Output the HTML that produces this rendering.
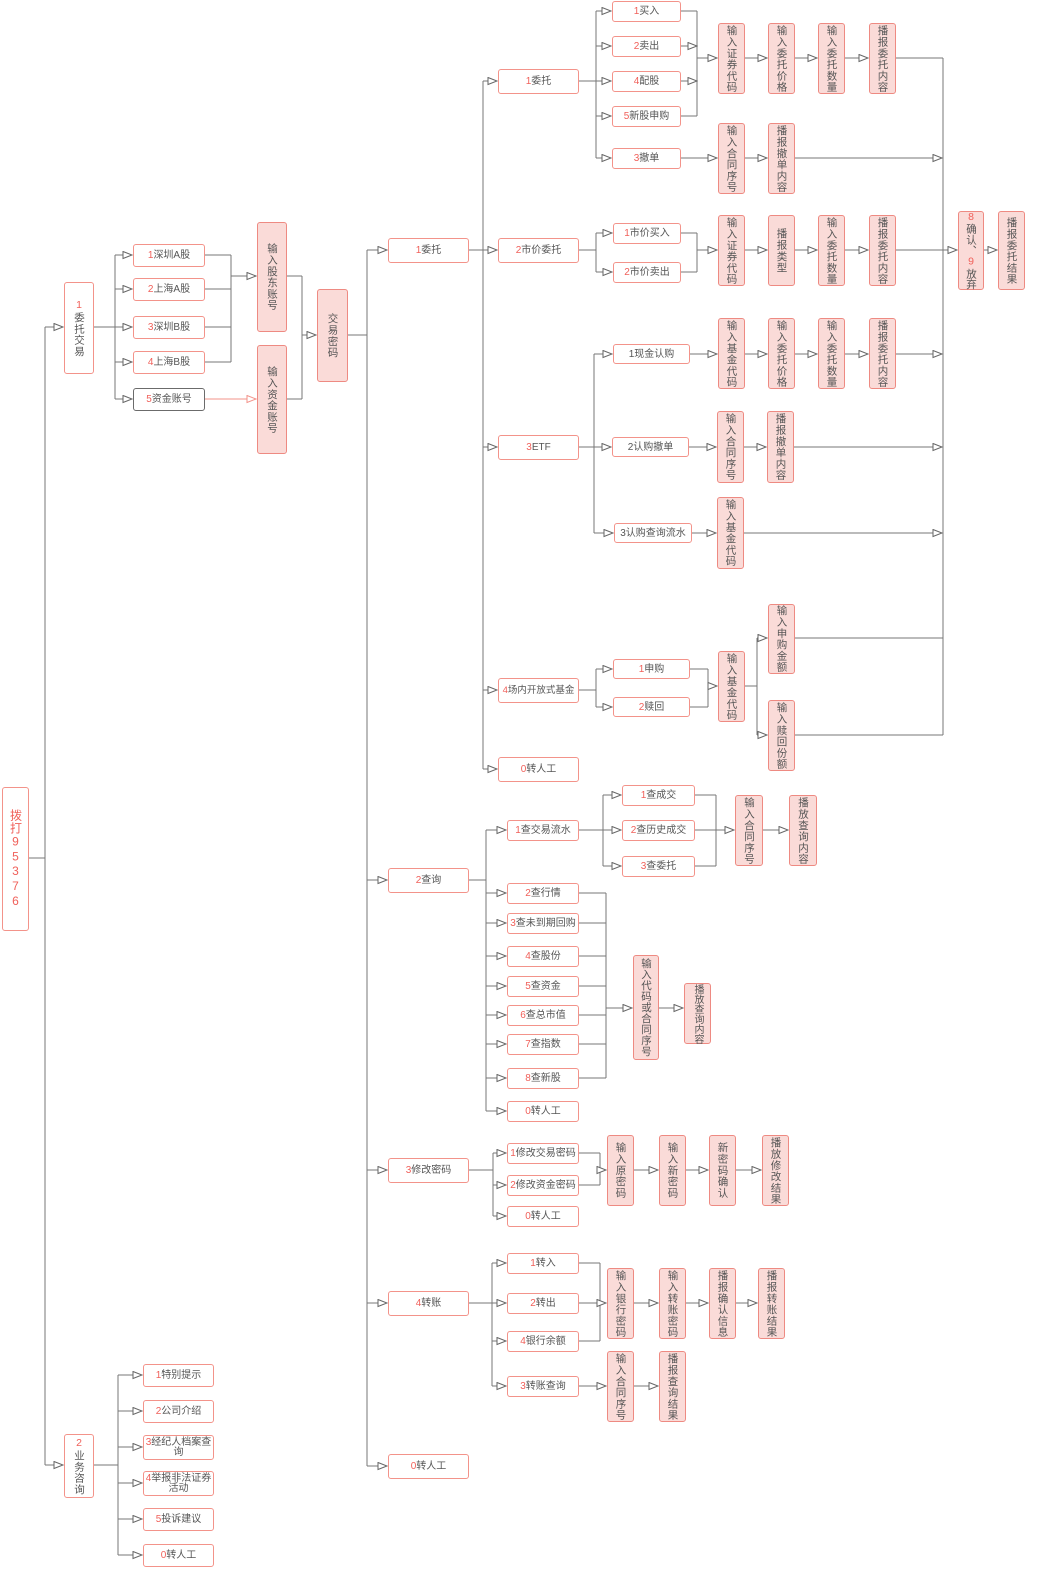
<!DOCTYPE html>
<html><head><meta charset="utf-8"><style>
body{margin:0;width:1038px;height:1586px;background:#fff;position:relative;overflow:hidden;font-family:"Liberation Sans","Noto Sans CJK SC",sans-serif;}
svg{position:absolute;left:0;top:0}
.h,.v{position:absolute;box-sizing:border-box;border:1px solid #f3938a;border-radius:3px;display:flex;align-items:center;justify-content:center;color:#555;font-size:10px;text-align:center;line-height:11px;white-space:nowrap}
.h{background:#fff}
.v{background:#fadbd8;border-color:#ee8a82}
.v span,.vt span{writing-mode:vertical-rl;text-orientation:upright;letter-spacing:0.8px;font-size:10.5px;white-space:nowrap;line-height:12px}
.r{color:#f0605a}
.g{border-color:#6b6b6b}
.w{white-space:normal}
</style></head><body>
<svg width="1038" height="1586">
<defs><marker id="a" markerUnits="userSpaceOnUse" markerWidth="11" markerHeight="9" refX="10" refY="4" orient="auto"><path d="M1,0.5 L10,4 L1,7.5 Z" fill="#fff" stroke="#666" stroke-width="1"/></marker>
<marker id="ar" markerUnits="userSpaceOnUse" markerWidth="11" markerHeight="9" refX="10" refY="4" orient="auto"><path d="M1,0.5 L10,4 L1,7.5 Z" fill="#fff" stroke="#f3938a" stroke-width="1"/></marker></defs>
<g fill="none" stroke="#777" stroke-width="1">
<path d="M28 858H45M45 327V1465M93 327H115M115 255V399M204 255H231M204 289H231M204 327H231M204 362H231M231 255V362M286 276H302M286 399H302M302 276V399M347 335H367M367 250V1466"/>
<path d="M468 250H483M483 81V769M578 81H596M596 11V158M680 11H697M697 11V116M680 116H697M943 58V735M895 58H943"/>
<path d="M578 250H596M596 233V272M680 233H697M680 272H697M697 233V272M895 250H943"/>
<path d="M578 447H594M594 354V533M578 690H596M596 669V707M689 669H708M689 707H708M708 669V707M744 686H757M757 638V735M794 638H943M794 735H943"/>
<path d="M468 880H486M486 830V1111M578 830H603M603 795V866M694 795H716M694 830H716M694 866H716M716 795V866M578 893H606M578 923H606M578 956H606M578 986H606M578 1015H606M578 1044H606M578 1078H606M606 893V1078"/>
<path d="M468 1170H493M493 1153V1216M578 1153H600M578 1185H600M600 1153V1185M468 1303H492M492 1263V1386M578 1263H600M578 1303H600M578 1341H600M600 1263V1341M93 1465H118M118 1375V1555"/>
</g>
<g fill="none" stroke="#777" stroke-width="1" marker-end="url(#a)">
<path d="M45 327H63"/><path d="M45 1465H63"/>
<path d="M115 255H132"/><path d="M115 289H132"/><path d="M115 327H132"/><path d="M115 362H132"/><path d="M115 399H132"/>
<path d="M231 276H256"/><path d="M302 335H316"/>
<path d="M367 250H387"/><path d="M367 880H387"/><path d="M367 1170H387"/><path d="M367 1303H387"/><path d="M367 1466H387"/>
<path d="M483 81H497"/><path d="M483 250H497"/><path d="M483 447H497"/><path d="M483 690H497"/><path d="M483 769H497"/>
<path d="M596 11H611"/><path d="M596 46H611"/><path d="M596 81H611"/><path d="M596 116H611"/><path d="M596 158H611"/>
<path d="M680 46H697"/><path d="M680 81H697"/><path d="M697 58H717"/>
<path d="M744 58H767"/><path d="M794 58H817"/><path d="M844 58H868"/>
<path d="M680 158H717"/><path d="M744 158H767"/><path d="M794 158H942"/>
<path d="M596 233H612"/><path d="M596 272H612"/><path d="M697 250H717"/><path d="M744 250H767"/><path d="M794 250H817"/><path d="M844 250H868"/><path d="M943 250H957"/><path d="M983 250H997"/>
<path d="M594 354H612"/><path d="M594 447H611"/><path d="M594 533H613"/>
<path d="M689 354H717"/><path d="M744 354H767"/><path d="M794 354H817"/><path d="M844 354H868"/><path d="M895 354H942"/>
<path d="M688 447H716"/><path d="M743 447H766"/><path d="M793 447H942"/>
<path d="M691 533H716"/><path d="M743 533H942"/>
<path d="M596 669H612"/><path d="M596 707H612"/><path d="M708 686H717"/><path d="M757 638H767"/><path d="M757 735H767"/>
<path d="M486 830H506"/><path d="M486 893H506"/><path d="M486 923H506"/><path d="M486 956H506"/><path d="M486 986H506"/><path d="M486 1015H506"/><path d="M486 1044H506"/><path d="M486 1078H506"/><path d="M486 1111H506"/>
<path d="M603 795H621"/><path d="M603 830H621"/><path d="M603 866H621"/><path d="M716 830H734"/><path d="M762 830H788"/>
<path d="M606 1008H632"/><path d="M658 1008H683"/>
<path d="M493 1153H506"/><path d="M493 1185H506"/><path d="M493 1216H506"/><path d="M600 1170H606"/><path d="M633 1170H658"/><path d="M685 1170H708"/><path d="M735 1170H761"/>
<path d="M492 1263H506"/><path d="M492 1303H506"/><path d="M492 1341H506"/><path d="M492 1386H506"/><path d="M600 1303H606"/><path d="M633 1303H658"/><path d="M685 1303H708"/><path d="M735 1303H757"/>
<path d="M578 1386H606"/><path d="M633 1386H658"/>
<path d="M118 1375H142"/><path d="M118 1411H142"/><path d="M118 1447H142"/><path d="M118 1483H142"/><path d="M118 1519H142"/><path d="M118 1555H142"/>
</g>
<path d="M204 399H256" fill="none" stroke="#f3938a" marker-end="url(#ar)"/>
</svg>

<div class="h vt" style="left:2px;top:787px;width:27px;height:144px;color:#f0605a"><span style="font-size:12px">拨打95376</span></div>
<div class="h vt" style="left:64px;top:282px;width:30px;height:92px"><span><b class="r" style="font-weight:normal">1</b>委托交易</span></div>
<div class="h vt" style="left:64px;top:1434px;width:30px;height:64px"><span><b class="r" style="font-weight:normal">2</b>业务咨询</span></div>

<div class="h" style="left:133px;top:244px;width:72px;height:23px"><span class="r">1</span>深圳A股</div>
<div class="h" style="left:133px;top:278px;width:72px;height:23px"><span class="r">2</span>上海A股</div>
<div class="h" style="left:133px;top:316px;width:72px;height:23px"><span class="r">3</span>深圳B股</div>
<div class="h" style="left:133px;top:351px;width:72px;height:23px"><span class="r">4</span>上海B股</div>
<div class="h g" style="left:133px;top:388px;width:72px;height:23px"><span class="r">5</span>资金账号</div>
<div class="v" style="left:257px;top:222px;width:30px;height:110px"><span>输入股东账号</span></div>
<div class="v" style="left:257px;top:345px;width:30px;height:109px"><span>输入资金账号</span></div>
<div class="v" style="left:317px;top:289px;width:31px;height:93px"><span>交易密码</span></div>

<div class="h" style="left:388px;top:238px;width:81px;height:25px"><span class="r">1</span>委托</div>
<div class="h" style="left:388px;top:868px;width:81px;height:25px"><span class="r">2</span>查询</div>
<div class="h" style="left:388px;top:1158px;width:81px;height:25px"><span class="r">3</span>修改密码</div>
<div class="h" style="left:388px;top:1291px;width:81px;height:25px"><span class="r">4</span>转账</div>
<div class="h" style="left:388px;top:1454px;width:81px;height:25px"><span class="r">0</span>转人工</div>

<div class="h" style="left:498px;top:69px;width:81px;height:25px"><span class="r">1</span>委托</div>
<div class="h" style="left:498px;top:238px;width:81px;height:25px"><span class="r">2</span>市价委托</div>
<div class="h" style="left:498px;top:435px;width:81px;height:25px"><span class="r">3</span>ETF</div>
<div class="h" style="left:498px;top:678px;width:81px;height:25px;font-size:9.5px"><span class="r">4</span>场内开放式基金</div>
<div class="h" style="left:498px;top:757px;width:81px;height:25px"><span class="r">0</span>转人工</div>

<div class="h" style="left:612px;top:1px;width:69px;height:21px"><span class="r">1</span>买入</div>
<div class="h" style="left:612px;top:36px;width:69px;height:21px"><span class="r">2</span>卖出</div>
<div class="h" style="left:612px;top:71px;width:69px;height:21px"><span class="r">4</span>配股</div>
<div class="h" style="left:612px;top:106px;width:69px;height:21px"><span class="r">5</span>新股申购</div>
<div class="h" style="left:612px;top:148px;width:69px;height:21px"><span class="r">3</span>撤单</div>
<div class="v" style="left:718px;top:23px;width:27px;height:71px"><span>输入证券代码</span></div>
<div class="v" style="left:768px;top:23px;width:27px;height:71px"><span>输入委托价格</span></div>
<div class="v" style="left:818px;top:23px;width:27px;height:71px"><span>输入委托数量</span></div>
<div class="v" style="left:869px;top:23px;width:27px;height:71px"><span>播报委托内容</span></div>
<div class="v" style="left:718px;top:123px;width:27px;height:71px"><span>输入合同序号</span></div>
<div class="v" style="left:768px;top:123px;width:27px;height:71px"><span>播报撤单内容</span></div>

<div class="h" style="left:613px;top:223px;width:68px;height:21px"><span class="r">1</span>市价买入</div>
<div class="h" style="left:613px;top:262px;width:68px;height:21px"><span class="r">2</span>市价卖出</div>
<div class="v" style="left:718px;top:215px;width:27px;height:71px"><span>输入证券代码</span></div>
<div class="v" style="left:768px;top:215px;width:27px;height:71px"><span>播报类型</span></div>
<div class="v" style="left:818px;top:215px;width:27px;height:71px"><span>输入委托数量</span></div>
<div class="v" style="left:869px;top:215px;width:27px;height:71px"><span>播报委托内容</span></div>
<div class="v" style="left:958px;top:211px;width:26px;height:79px"><span style="letter-spacing:0.3px"><b class="r" style="font-weight:normal">8</b>确认、<b class="r" style="font-weight:normal">9</b>放弃</span></div>
<div class="v" style="left:998px;top:211px;width:27px;height:79px"><span>播报委托结果</span></div>

<div class="h" style="left:613px;top:344px;width:77px;height:20px">1现金认购</div>
<div class="h" style="left:612px;top:437px;width:77px;height:20px">2认购撤单</div>
<div class="h" style="left:614px;top:523px;width:78px;height:20px">3认购查询流水</div>
<div class="v" style="left:718px;top:318px;width:27px;height:71px"><span>输入基金代码</span></div>
<div class="v" style="left:768px;top:318px;width:27px;height:71px"><span>输入委托价格</span></div>
<div class="v" style="left:818px;top:318px;width:27px;height:71px"><span>输入委托数量</span></div>
<div class="v" style="left:869px;top:318px;width:27px;height:71px"><span>播报委托内容</span></div>
<div class="v" style="left:717px;top:411px;width:27px;height:72px"><span>输入合同序号</span></div>
<div class="v" style="left:767px;top:411px;width:27px;height:72px"><span>播报撤单内容</span></div>
<div class="v" style="left:717px;top:497px;width:27px;height:72px"><span>输入基金代码</span></div>

<div class="h" style="left:613px;top:659px;width:77px;height:20px"><span class="r">1</span>申购</div>
<div class="h" style="left:613px;top:697px;width:77px;height:20px"><span class="r">2</span>赎回</div>
<div class="v" style="left:718px;top:651px;width:27px;height:71px"><span>输入基金代码</span></div>
<div class="v" style="left:768px;top:604px;width:27px;height:70px"><span>输入申购金额</span></div>
<div class="v" style="left:768px;top:700px;width:27px;height:71px"><span>输入赎回份额</span></div>

<div class="h" style="left:507px;top:820px;width:72px;height:21px"><span class="r">1</span>查交易流水</div>
<div class="h" style="left:507px;top:883px;width:72px;height:21px"><span class="r">2</span>查行情</div>
<div class="h" style="left:507px;top:913px;width:72px;height:21px"><span class="r">3</span>查未到期回购</div>
<div class="h" style="left:507px;top:946px;width:72px;height:21px"><span class="r">4</span>查股份</div>
<div class="h" style="left:507px;top:976px;width:72px;height:21px"><span class="r">5</span>查资金</div>
<div class="h" style="left:507px;top:1005px;width:72px;height:21px"><span class="r">6</span>查总市值</div>
<div class="h" style="left:507px;top:1034px;width:72px;height:21px"><span class="r">7</span>查指数</div>
<div class="h" style="left:507px;top:1068px;width:72px;height:21px"><span class="r">8</span>查新股</div>
<div class="h" style="left:507px;top:1101px;width:72px;height:21px"><span class="r">0</span>转人工</div>
<div class="h" style="left:622px;top:785px;width:73px;height:21px"><span class="r">1</span>查成交</div>
<div class="h" style="left:622px;top:820px;width:73px;height:21px"><span class="r">2</span>查历史成交</div>
<div class="h" style="left:622px;top:856px;width:73px;height:21px"><span class="r">3</span>查委托</div>
<div class="v" style="left:735px;top:795px;width:28px;height:71px"><span>输入合同序号</span></div>
<div class="v" style="left:789px;top:795px;width:28px;height:71px"><span>播放查询内容</span></div>
<div class="v" style="left:633px;top:955px;width:26px;height:105px"><span style="letter-spacing:0.5px">输入代码或合同序号</span></div>
<div class="v" style="left:684px;top:983px;width:27px;height:61px"><span style="letter-spacing:0;line-height:11px;font-size:10px">播放查询内容</span></div>

<div class="h" style="left:507px;top:1143px;width:72px;height:21px"><span class="r">1</span>修改交易密码</div>
<div class="h" style="left:507px;top:1175px;width:72px;height:21px"><span class="r">2</span>修改资金密码</div>
<div class="h" style="left:507px;top:1206px;width:72px;height:21px"><span class="r">0</span>转人工</div>
<div class="v" style="left:607px;top:1135px;width:27px;height:71px"><span>输入原密码</span></div>
<div class="v" style="left:659px;top:1135px;width:27px;height:71px"><span>输入新密码</span></div>
<div class="v" style="left:709px;top:1135px;width:27px;height:71px"><span>新密码确认</span></div>
<div class="v" style="left:762px;top:1135px;width:27px;height:71px"><span>播放修改结果</span></div>

<div class="h" style="left:507px;top:1253px;width:72px;height:21px"><span class="r">1</span>转入</div>
<div class="h" style="left:507px;top:1293px;width:72px;height:21px"><span class="r">2</span>转出</div>
<div class="h" style="left:507px;top:1331px;width:72px;height:21px"><span class="r">4</span>银行余额</div>
<div class="h" style="left:507px;top:1376px;width:72px;height:21px"><span class="r">3</span>转账查询</div>
<div class="v" style="left:607px;top:1268px;width:27px;height:71px"><span>输入银行密码</span></div>
<div class="v" style="left:659px;top:1268px;width:27px;height:71px"><span>输入转账密码</span></div>
<div class="v" style="left:709px;top:1268px;width:27px;height:71px"><span>播报确认信息</span></div>
<div class="v" style="left:758px;top:1268px;width:27px;height:71px"><span>播报转账结果</span></div>
<div class="v" style="left:607px;top:1351px;width:27px;height:71px"><span>输入合同序号</span></div>
<div class="v" style="left:659px;top:1351px;width:27px;height:71px"><span>播报查询结果</span></div>

<div class="h" style="left:143px;top:1364px;width:71px;height:23px"><span class="r">1</span>特别提示</div>
<div class="h" style="left:143px;top:1400px;width:71px;height:23px"><span class="r">2</span>公司介绍</div>
<div class="h" style="left:143px;top:1435px;width:71px;height:25px;line-height:10px"><div><span class="r">3</span>经纪人档案查<br>询</div></div>
<div class="h" style="left:143px;top:1471px;width:71px;height:25px;line-height:10px"><div><span class="r">4</span>举报非法证券<br>活动</div></div>
<div class="h" style="left:143px;top:1508px;width:71px;height:23px"><span class="r">5</span>投诉建议</div>
<div class="h" style="left:143px;top:1544px;width:71px;height:23px"><span class="r">0</span>转人工</div>
</body></html>
